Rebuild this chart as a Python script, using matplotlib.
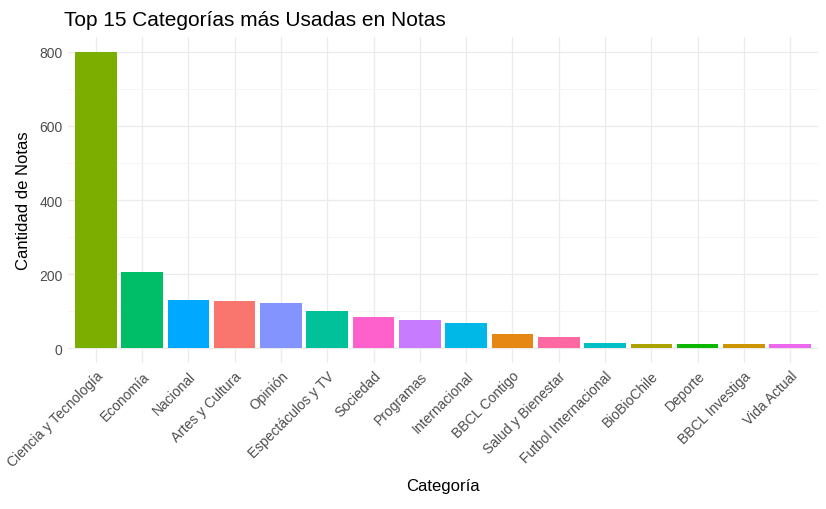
import matplotlib.pyplot as plt
import numpy as np

categorias = ["Ciencia y Tecnología", "Economía", "Nacional", "Artes y Cultura", "Opinión",
              "Espectáculos y TV", "Sociedad", "Programas", "Internacional", "BBCL Contigo",
              "Salud y Bienestar", "Futbol Internacional", "BioBioChile", "Deporte",
              "BBCL Investiga", "Vida Actual"]
cantidades = [800, 205, 131, 128, 123, 101, 85, 77, 68, 38, 30, 14, 11, 11, 11, 11]
colores = ["#7CAE00", "#00BE67", "#00A9FF", "#F8766D", "#8494FF", "#00C19A", "#FF61CC",
           "#C77CFF", "#00B8E7", "#E68613", "#FF68A1", "#00BFC4", "#ABA300", "#0CB702",
           "#CD9600", "#ED68ED"]

plt.rcParams['font.family'] = ['Liberation Sans', 'DejaVu Sans']

fig = plt.figure(figsize=(8.26, 5.10), dpi=100)
ax = fig.add_axes([68/826, 1 - 364/510, 750/826, (364 - 38)/510])

x = np.arange(len(categorias))
ax.bar(x, cantidades, width=0.9, color=colores, zorder=2)

ax.set_xlim(-0.6, len(categorias) - 0.4)
ax.set_ylim(-40, 840)
ax.set_yticks([0, 200, 400, 600, 800])
ax.set_yticks([100, 300, 500, 700], minor=True)
ax.set_xticks(x)
ax.set_xticklabels(categorias, rotation=45, ha='right', va='top', rotation_mode='anchor')
ax.tick_params(axis='both', length=0, labelsize=10, colors='#4D4D4D', pad=4)
ax.tick_params(axis='y', which='minor', length=0)
ax.grid(True, which='major', color='#EBEBEB', linewidth=0.9, zorder=0)
ax.grid(True, which='minor', axis='y', color='#F4F4F4', linewidth=0.6, zorder=0)
for s in ax.spines.values():
    s.set_visible(False)

ax.set_xlabel("Categoría", fontsize=12, labelpad=6)
ax.set_ylabel("Cantidad de Notas", fontsize=12, labelpad=6)
fig.text(64/826, 1 - 20/510, "Top 15 Categorías más Usadas en Notas", fontsize=15, va='center')

fig.savefig("out.png", dpi=100)
